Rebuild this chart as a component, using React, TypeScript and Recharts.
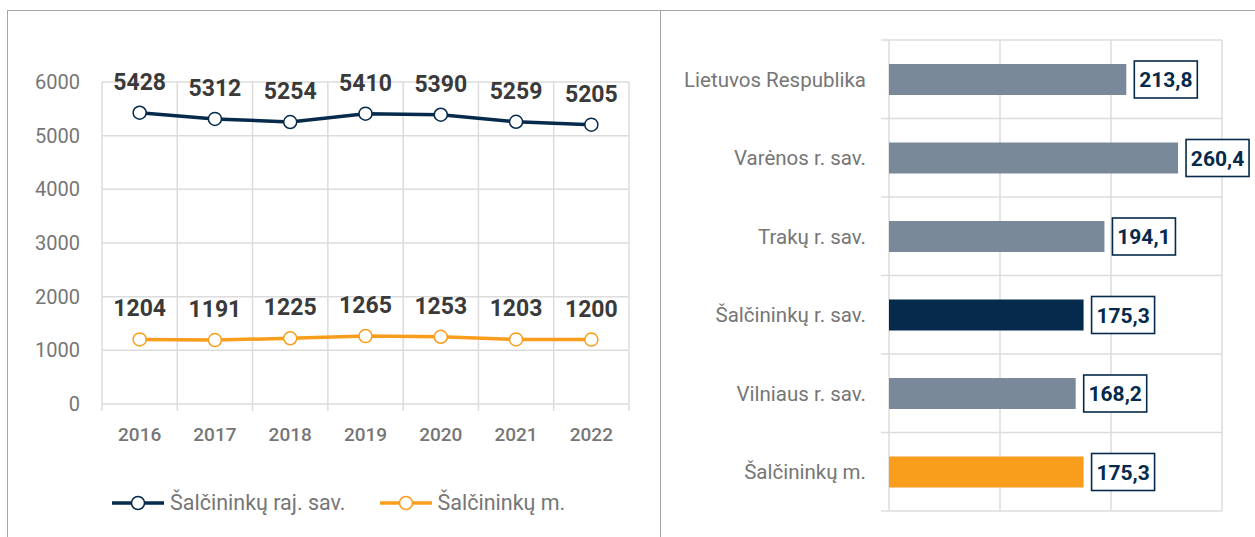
import {
  Bar,
  BarChart,
  CartesianGrid,
  Cell,
  LabelList,
  Legend,
  Line,
  LineChart,
  XAxis,
  YAxis,
} from "recharts";

const years = ["2016", "2017", "2018", "2019", "2020", "2021", "2022"];
const districtPopulation = [5428, 5312, 5254, 5410, 5390, 5259, 5205];
const townPopulation = [1204, 1191, 1225, 1265, 1253, 1203, 1200];
const populationTicks = [0, 1000, 2000, 3000, 4000, 5000, 6000];

const areas = [
  "Lietuvos Respublika",
  "Varėnos r. sav.",
  "Trakų r. sav.",
  "Šalčininkų r. sav.",
  "Vilniaus r. sav.",
  "Šalčininkų m.",
];
const rates = [213.8, 260.4, 194.1, 175.3, 168.2, 175.3];
const rateTicks = [0, 100, 200, 300];

const NAVY = "#052a4b";
const ORANGE = "#f89d1c";
const SLATE = "#7a8999";
const GRID = "#dcdcdc";
const MUTED = "#767676";
const FONT = "Roboto, 'Noto Sans', sans-serif";

const barColors = [SLATE, SLATE, SLATE, NAVY, SLATE, ORANGE];

const lineData = years.map((year, i) => ({
  year,
  district: districtPopulation[i],
  town: townPopulation[i],
}));

const barData = areas.map((area, i) => ({ area, rate: rates[i] }));

const formatRate = (v: number) => v.toFixed(1).replace(".", ",");

function ValueBox(props: any) {
  const { x, y, width, height, value } = props;
  const bx = x + width + 8;
  const by = y + height / 2 - 18.5;
  return (
    <g>
      <rect x={bx} y={by} width={63} height={37} fill="#fff" stroke={NAVY} strokeWidth={1.6} />
      <text
        x={bx + 31.5}
        y={by + 19}
        textAnchor="middle"
        dominantBaseline="central"
        fill={NAVY}
        fontSize={21}
        fontWeight={700}
      >
        {formatRate(value)}
      </text>
    </g>
  );
}

function LineLegend({ payload }: any) {
  return (
    <div style={{ display: "flex", alignItems: "center", gap: 34 }}>
      {(payload || []).map((entry: any) => (
        <div key={entry.value} style={{ display: "flex", alignItems: "center" }}>
          <svg width={52} height={16}>
            <line x1={0} y1={8} x2={52} y2={8} stroke={entry.color} strokeWidth={3.5} />
            <circle cx={26} cy={8} r={6.5} fill="#fff" stroke={entry.color} strokeWidth={1.5} />
          </svg>
          <span style={{ marginLeft: 6, color: MUTED, fontSize: 21.5, fontFamily: FONT }}>
            {entry.value}
          </span>
        </div>
      ))}
    </div>
  );
}

export default function App() {
  return (
    <div
      style={{
        position: "absolute",
        left: 0,
        top: 0,
        width: 1255,
        height: 537,
        overflow: "hidden",
        background: "#fff",
        fontFamily: FONT,
      }}
    >
      {/* panel frames */}
      <div style={{ position: "absolute", left: 7, top: 10, width: 1260, height: 0, borderTop: "1.5px solid #a6a6a6" }} />
      <div style={{ position: "absolute", left: 7, top: 10, width: 0, height: 540, borderLeft: "1.5px solid #a6a6a6" }} />
      <div style={{ position: "absolute", left: 660, top: 10, width: 0, height: 540, borderLeft: "1.5px solid #a6a6a6" }} />

      <div style={{ position: "absolute", left: 0, top: 0 }}>
        <LineChart
          width={661}
          height={537}
          data={lineData}
          margin={{ top: 82, right: 32, bottom: 93, left: 42 }}
        >
          <CartesianGrid
            stroke={GRID}
            strokeWidth={1.5}
            verticalCoordinatesGenerator={({ offset }: any) =>
              [...years.map((_, i) => offset.left + (i * offset.width) / years.length), offset.left + offset.width]
            }
            vertical={(p: any) => (
              <line key={p.key ?? `v-${p.index}`} x1={p.x1} y1={p.y1} x2={p.x2} y2={p.y2 + 7} stroke={GRID} strokeWidth={1.5} />
            )}
          />
          <XAxis
            dataKey="year"
            scale="band"
            axisLine={false}
            tickLine={false}
            tickSize={0}
            tickMargin={24}
            height={40}
            interval={0}
            tick={{ fill: MUTED, fontSize: 19, fontWeight: 500 }}
          />
          <YAxis
            domain={[0, 6000]}
            ticks={populationTicks}
            axisLine={false}
            tickLine={false}
            tickSize={0}
            tickMargin={22}
            width={60}
            tick={{ fill: MUTED, fontSize: 20 }}
          />
          <Legend
            layout="horizontal"
            align="center"
            verticalAlign="middle"
            itemSorter="dataKey"
            wrapperStyle={{ top: 490, left: 112, width: 520 }}
            content={<LineLegend />}
          />
          <Line
            dataKey="district"
            name="Šalčininkų raj. sav."
            stroke={NAVY}
            strokeWidth={3.5}
            dot={{ r: 6.5, fill: "#fff", stroke: NAVY, strokeWidth: 1.5 }}
            isAnimationActive={false}
          >
            <LabelList
              dataKey="district"
              position="top"
              offset={23}
              style={{ fill: "#3a3a3a", fontSize: 23, fontWeight: 700 }}
            />
          </Line>
          <Line
            dataKey="town"
            name="Šalčininkų m."
            stroke={ORANGE}
            strokeWidth={3.5}
            dot={{ r: 6.5, fill: "#fff", stroke: ORANGE, strokeWidth: 1.5 }}
            isAnimationActive={false}
          >
            <LabelList
              dataKey="town"
              position="top"
              offset={23}
              style={{ fill: "#3a3a3a", fontSize: 23, fontWeight: 700 }}
            />
          </Line>
        </LineChart>
      </div>

      <div style={{ position: "absolute", left: 661, top: 0 }}>
        <BarChart
          layout="vertical"
          width={640}
          height={537}
          data={barData}
          margin={{ top: 40, right: 79, bottom: 26, left: 0 }}
          barSize={31}
        >
          <CartesianGrid
            stroke={GRID}
            strokeWidth={1.5}
            horizontalCoordinatesGenerator={({ offset }: any) =>
              [...areas.map((_, i) => offset.top + (i * offset.height) / areas.length), offset.top + offset.height]
            }
            horizontal={(p: any) => (
              <line key={p.key ?? `h-${p.index}`} x1={p.x1 - 8} y1={p.y1} x2={p.x2} y2={p.y2} stroke={GRID} strokeWidth={1.5} />
            )}
          />
          <XAxis type="number" domain={[0, 300]} ticks={rateTicks} hide />
          <YAxis
            type="category"
            dataKey="area"
            width={228}
            axisLine={false}
            tickLine={false}
            tickSize={0}
            tickMargin={23}
            interval={0}
            tick={{ fill: MUTED, fontSize: 20.5 }}
          />
          <Bar dataKey="rate" isAnimationActive={false}>
            {barData.map((d, i) => (
              <Cell key={d.area + i} fill={barColors[i]} />
            ))}
            <LabelList dataKey="rate" content={<ValueBox />} />
          </Bar>
        </BarChart>
      </div>
    </div>
  );
}
